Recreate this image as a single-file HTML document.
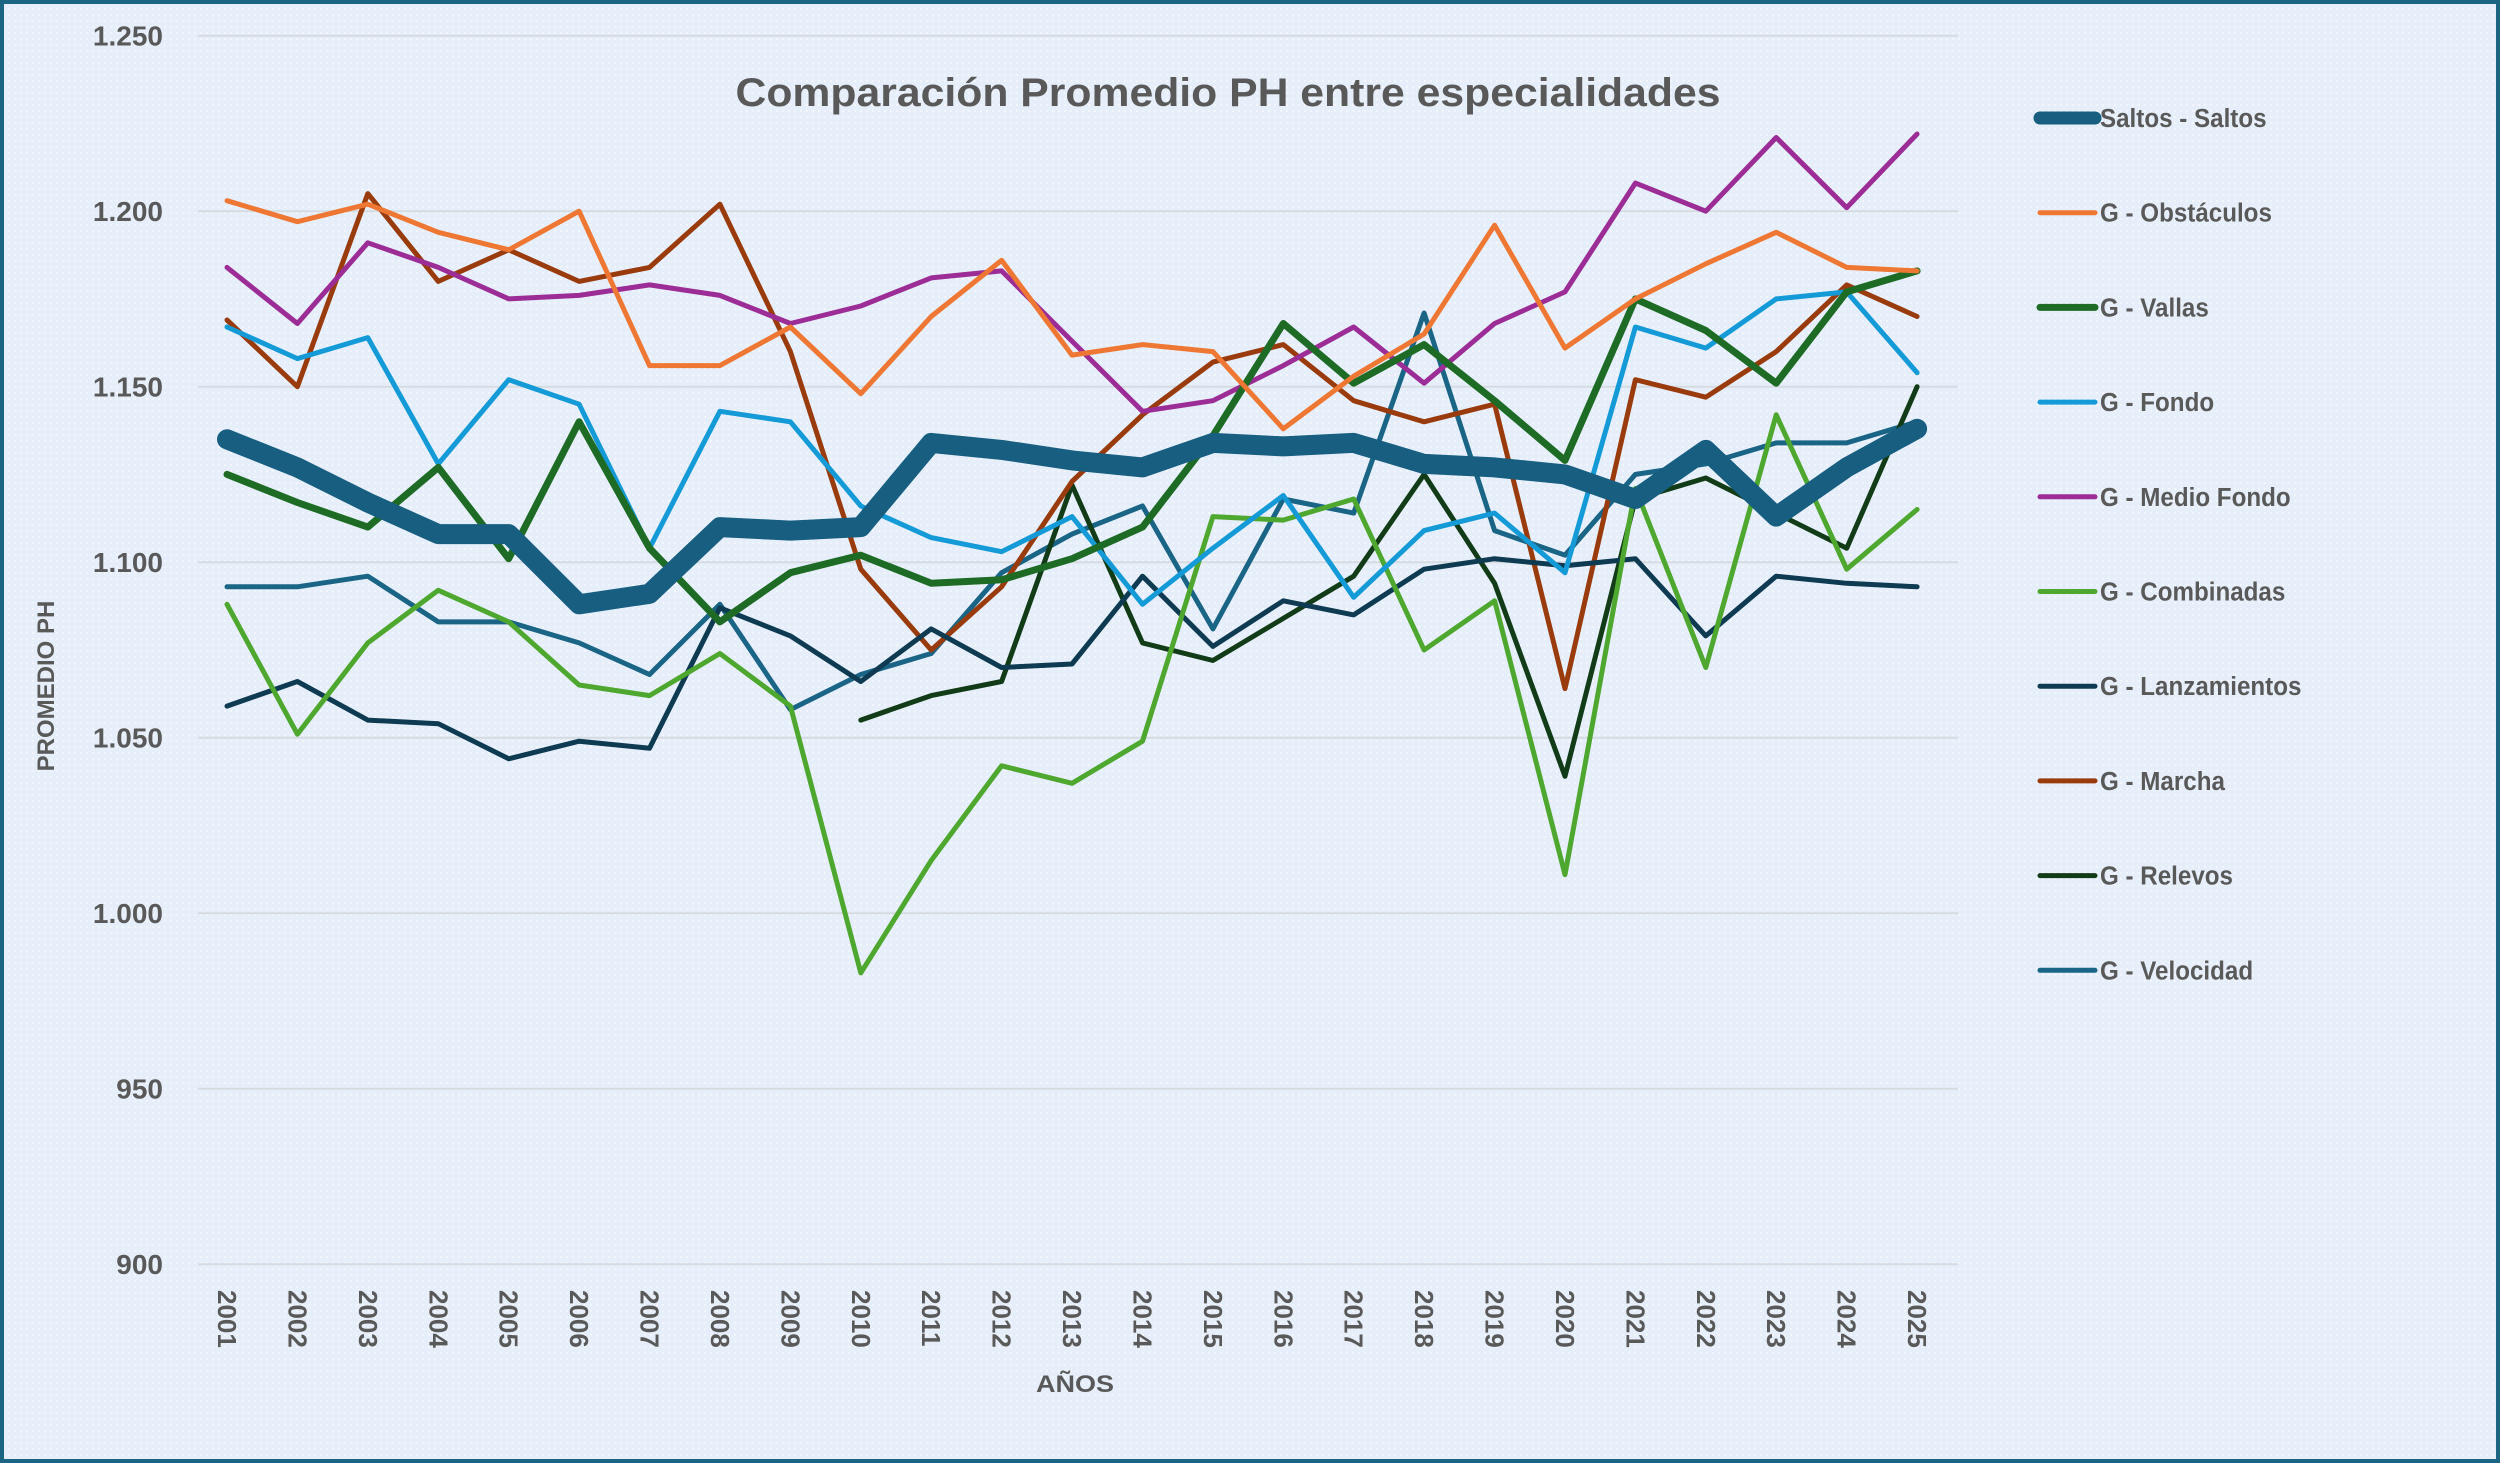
<!DOCTYPE html>
<html><head><meta charset="utf-8"><style>
html,body{margin:0;padding:0;width:2500px;height:1463px;overflow:hidden;background:#eaf1f9;}
svg{display:block;font-family:"Liberation Sans",sans-serif;}
</style></head><body>
<svg id="chart" width="2500" height="1463" viewBox="0 0 2500 1463" xmlns="http://www.w3.org/2000/svg">
<defs><pattern id="dots" width="6" height="6" patternUnits="userSpaceOnUse"><rect width="6" height="6" fill="#e6eff9"/><circle cx="3" cy="3" r="1" fill="#f6f9fd"/></pattern></defs>
<rect x="0" y="0" width="2500" height="1463" fill="url(#dots)" stroke="#1b6483" stroke-width="8"/>
<g id="grid"></g>
<g id="ylabels"></g>
<g id="xlabels"></g>
<g id="series"></g>
<g id="legend"></g>
<text x="1228" y="106" text-anchor="middle" font-size="40" font-weight="bold" fill="#595959" textLength="985" lengthAdjust="spacingAndGlyphs">Comparación Promedio PH entre especialidades</text>
<text transform="translate(54,686) rotate(-90)" text-anchor="middle" font-size="24" font-weight="bold" fill="#595959">PROMEDIO PH</text>
<text x="1075" y="1392" text-anchor="middle" font-size="24" font-weight="bold" fill="#595959" textLength="78" lengthAdjust="spacingAndGlyphs">AÑOS</text>
</svg>
<script>
const years=["2001","2002","2003","2004","2005","2006","2007","2008","2009","2010","2011","2012","2013","2014","2015","2016","2017","2018","2019","2020","2021","2022","2023","2024","2025"];
const yTicks=[900,950,1000,1050,1100,1150,1200,1250];
const yTickLabels=["900","950","1.000","1.050","1.100","1.150","1.200","1.250"];
const seriesNames=["Saltos - Saltos","G - Obstáculos","G - Vallas","G - Fondo","G - Medio Fondo","G - Combinadas","G - Lanzamientos","G - Marcha","G - Relevos","G - Velocidad"];
const saltos=[1135,1127,1117,1108,1108,1088,1091,1110,1109,1110,1134,1132,1129,1127,1134,1133,1134,1128,1127,1125,1118,1132,1113,1127,1138];
const obstaculos=[1203,1197,1202,1194,1189,1200,1156,1156,1167,1148,1170,1186,1159,1162,1160,1138,1153,1165,1196,1161,1175,1185,1194,1184,1183];
const vallas=[1125,1117,1110,1127,1101,1140,1104,1083,1097,1102,1094,1095,1101,1110,1136,1168,1151,1162,1146,1129,1175,1166,1151,1177,1183];
const fondo=[1167,1158,1164,1128,1152,1145,1104,1143,1140,1116,1107,1103,1113,1088,1104,1119,1090,1109,1114,1097,1167,1161,1175,1177,1154];
const medioFondo=[1184,1168,1191,1184,1175,1176,1179,1176,1168,1173,1181,1183,1163,1143,1146,1156,1167,1151,1168,1177,1208,1200,1221,1201,1222];
const combinadas=[1088,1051,1077,1092,1083,1065,1062,1074,1059,983,1015,1042,1037,1049,1113,1112,1118,1075,1089,1011,1121,1070,1142,1098,1115];
const lanzamientos=[1059,1066,1055,1054,1044,1049,1047,1087,1079,1066,1081,1070,1071,1096,1076,1089,1085,1098,1101,1099,1101,1079,1096,1094,1093];
const marcha=[1169,1150,1205,1180,1189,1180,1184,1202,1160,1098,1075,1093,1123,1142,1157,1162,1146,1140,1145,1064,1152,1147,1160,1179,1170];
const relevos=[null,null,null,null,null,null,null,null,null,1055,1062,1066,1122,1077,1072,1084,1096,1125,1094,1039,1118,1124,1114,1104,1150];
const velocidad=[1093,1093,1096,1083,1083,1077,1068,1088,1058,1068,1074,1097,1108,1116,1081,1118,1114,1171,1109,1102,1125,1128,1134,1134,1140];
const allSeries=[saltos,obstaculos,vallas,fondo,medioFondo,combinadas,lanzamientos,marcha,relevos,velocidad];
const colors=["#175e80","#ee7733","#1e6b26","#149ad6","#9c2d96","#4ea72e","#0e3a52","#9a3b0e","#123b17","#1a6486"];
const widths=[20,5,7,5,5,5,5,5,5,5];
const NS="http://www.w3.org/2000/svg";
const x=i=>227+i*70.42;
const y=v=>35.7+(1250-v)*3.51;
function mk(tag,attrs,parent){const e=document.createElementNS(NS,tag);for(const k in attrs)e.setAttribute(k,attrs[k]);parent.appendChild(e);return e;}
const grid=document.getElementById('grid'),yl=document.getElementById('ylabels'),xl=document.getElementById('xlabels'),sg=document.getElementById('series'),lg=document.getElementById('legend');
yTicks.forEach((t,i)=>{
  const l=mk('line',{x1:198,x2:1958,y1:y(t),y2:y(t),stroke:'#d6dbe1','stroke-width':2},grid);
  
  
  const tx=mk('text',{x:163,y:y(t)+10,'text-anchor':'end','font-size':28,'font-weight':'bold',fill:'#595959'},yl);
  
  
  tx.textContent=yTickLabels[i];
});
years.forEach((yr,i)=>{
  const tx=mk('text',{transform:`translate(${x(i)-9},1290) rotate(90)`,'font-size':26,'font-weight':'bold',fill:'#595959'},xl);
  
  
  tx.textContent=yr;
});
[...allSeries.keys()].reverse().forEach(s=>{
  const d=allSeries[s];let p='';let started=false;
  d.forEach((v,i)=>{if(v==null){started=false;return;}p+=(started?'L':'M')+x(i).toFixed(1)+','+y(v).toFixed(1);started=true;});
  const path=mk('path',{d:p,fill:'none',stroke:colors[s],'stroke-width':widths[s],'stroke-linejoin':'round','stroke-linecap':'round'},sg);
  
  
});
seriesNames.forEach((n,i)=>{
  const cy=118+i*94.7;
  const ln=mk('line',{x1:2040,x2:2095,y1:cy,y2:cy,stroke:colors[i],'stroke-width':i==0?13:widths[i],'stroke-linecap':'round'},lg);
  
  
  const tx=mk('text',{transform:`translate(2100,${cy+9}) scale(0.93,1)`,'font-size':26,'font-weight':'bold',fill:'#595959'},lg);
  
  
  tx.textContent=n;
});
</script>
</body></html>
